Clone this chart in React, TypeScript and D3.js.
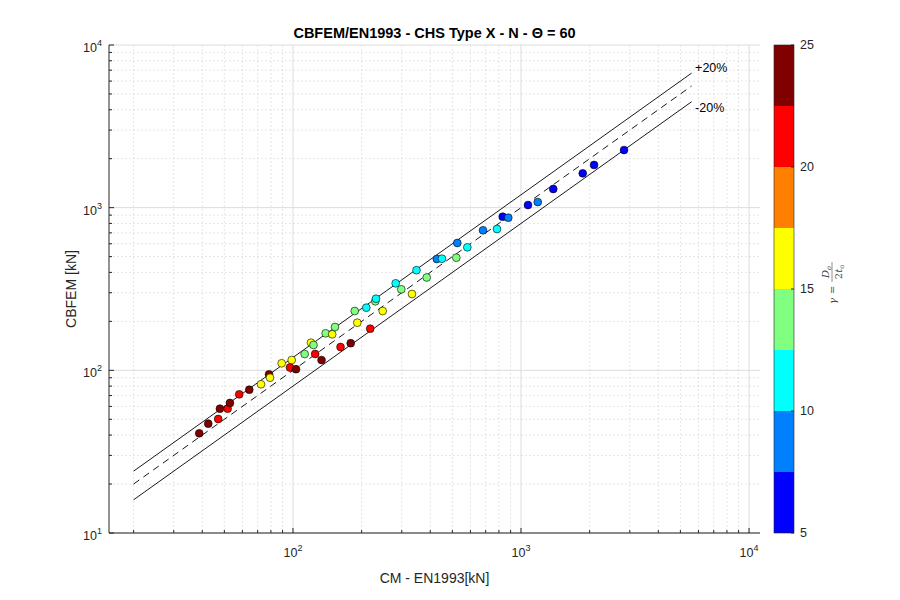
import React from "react";
import * as d3 from "d3";

// values
const cmValues = [38.8, 42.5, 47.0, 47.8, 51.7, 52.9, 58.1, 64.3, 72.4, 78.5, 79.3, 89.2, 98.7, 97.0, 103.1,
    112.5, 125.1, 133.4, 119.9, 123.0, 139.1, 148.6, 152.8, 161.6, 179.1, 191.4, 186.5, 209.7, 229.6, 231.2,
    218.1, 247.4, 282.1, 298.5, 332.6, 348.0, 385.9, 427.3, 450.3, 520.3, 525.6, 581.4, 681.3, 784.7, 831.2,
    879.4, 1073, 1184, 1385, 1865, 2091, 2830];
const cbfemValues = [41.0, 47.0, 50.2, 58.1, 58.1, 63.0, 71.2, 76.0, 82.1, 94.5, 90.1, 110.5, 115.7, 104.1, 101.6,
    126.0, 126.0, 115.7, 147.9, 143.1, 168.9, 166.5, 184.7, 139.1, 146.8, 196.3, 231.6, 242.7, 265.7, 275.6,
    180.3, 231.6, 342.8, 314.8, 294.6, 412.6, 372.2, 483.5, 485.6, 492.5, 606.5, 570.6, 725.8, 739.3, 879.8,
    867.5, 1038, 1083, 1302, 1626, 1830, 2261];
const gammaValues = [24, 24, 21, 24, 21, 24, 21, 24, 16, 24, 16, 16, 16, 21, 24,
    14, 21, 24, 16, 14, 14, 16, 14, 21, 24, 16, 14, 11, 14, 11,
    21, 16, 11, 14, 16, 11, 14, 9, 11, 14, 9, 11, 9, 11, 6,
    9, 6, 9, 6, 6, 6, 6];

const jetColors = ["#0000ff", "#0080ff", "#00ffff", "#80ff80", "#ffff00", "#ff8000", "#ff0000", "#800000"];
const gammaTicks = [5, 10, 15, 20, 25];
const xTickExps = [2, 3, 4];
const yTickExps = [1, 2, 3, 4];
const refFactors = [1.2, 1, 0.8];
const refRange = [20, 5600];
const bandLabels = [
    {text: "+20%", x: 5800, y: 7250},
    {text: "-20%", x: 5800, y: 4150},
];

const W = 900, H = 600;
const left = 109, right = 760, top = 45, bottom = 533;
const axisColor = "#262626";
const font = "'Liberation Sans', Arial, Helvetica, sans-serif";

const App = () => {
    const xScale = d3.scaleLog().domain([15.6, 11170]).range([left, right]);
    const yScale = d3.scaleLog().domain([10, 10000]).range([bottom, top]);
    const cScale = d3.scaleQuantize<string>().domain([5, 25]).range(jetColors);
    const cbY = d3.scaleLinear().domain([5, 25]).range([bottom, top]);

    const xMinor = xScale.ticks().filter(v => !xTickExps.some(e => Math.abs(v - 10 ** e) < 1e-6));
    const yMinor = yScale.ticks().filter(v => !yTickExps.some(e => Math.abs(v - 10 ** e) < 1e-6));

    const points = cmValues.map((x, i) => ({x, y: cbfemValues[i], g: gammaValues[i]}));
    const step = 20 / jetColors.length;
    const bins = d3.range(jetColors.length).map(i => 5 + i * step);

    return (
        <svg width={W} height={H} style={{position: "absolute", left: 0, top: 0, background: "#fff"}}
             fontFamily={font}>
            <rect width={W} height={H} fill="#fff"/>
            {/* minor grid */}
            {xMinor.map((v, i) => (
                <line key={"gx" + i} x1={xScale(v)} x2={xScale(v)} y1={top} y2={bottom}
                      stroke="#dedede" strokeWidth={0.8} strokeDasharray="2,2"/>
            ))}
            {yMinor.map((v, i) => (
                <line key={"gy" + i} x1={left} x2={right} y1={yScale(v)} y2={yScale(v)}
                      stroke="#dedede" strokeWidth={0.8} strokeDasharray="2,2"/>
            ))}
            {/* major grid */}
            {xTickExps.map(e => (
                <line key={"Gx" + e} x1={xScale(10 ** e)} x2={xScale(10 ** e)} y1={top} y2={bottom}
                      stroke="#dcdcdc" strokeWidth={1}/>
            ))}
            {yTickExps.map(e => (
                <line key={"Gy" + e} x1={left} x2={right} y1={yScale(10 ** e)} y2={yScale(10 ** e)}
                      stroke="#dcdcdc" strokeWidth={1}/>
            ))}

            {/* axes */}
            <line x1={left} x2={right} y1={bottom} y2={bottom} stroke={axisColor} strokeWidth={1}/>
            <line x1={left} x2={left} y1={top} y2={bottom} stroke={axisColor} strokeWidth={1}/>
            {xMinor.map((v, i) => (
                <line key={"tx" + i} x1={xScale(v)} x2={xScale(v)} y1={bottom} y2={bottom - 3}
                      stroke={axisColor}/>
            ))}
            {yMinor.map((v, i) => (
                <line key={"ty" + i} x1={left} x2={left + 3} y1={yScale(v)} y2={yScale(v)}
                      stroke={axisColor}/>
            ))}
            {xTickExps.map(e => (
                <g key={"Tx" + e} transform={`translate(${xScale(10 ** e)},${bottom})`}>
                    <line y2={-5} stroke={axisColor}/>
                    <text y={24} textAnchor="middle" fontSize={12.5} fill={axisColor}>
                        10<tspan dy={-6} fontSize={9}>{e}</tspan>
                    </text>
                </g>
            ))}
            {yTickExps.map(e => (
                <g key={"Ty" + e} transform={`translate(${left},${yScale(10 ** e)})`}>
                    <line x2={5} stroke={axisColor}/>
                    <text x={-12} y={7} textAnchor="end" fontSize={12.5} fill={axisColor}>10</text>
                    <text x={-12} y={1} textAnchor="start" fontSize={9} fill={axisColor}>{e}</text>
                </g>
            ))}

            {/* reference band */}
            {refFactors.map(f => (
                <line key={"r" + f} x1={xScale(refRange[0])} x2={xScale(refRange[1])}
                      y1={yScale(refRange[0] * f)} y2={yScale(refRange[1] * f)}
                      stroke="#000" strokeWidth={0.9} strokeDasharray={f === 1 ? "7,5" : undefined}/>
            ))}
            {bandLabels.map(l => (
                <text key={l.text} x={xScale(l.x)} y={yScale(l.y)} dy="0.35em" fontSize={12.5} fill="#000">
                    {l.text}
                </text>
            ))}

            {/* points */}
            {points.map((p, i) => (
                <circle key={"p" + i} cx={xScale(p.x)} cy={yScale(p.y)} r={3.9}
                        fill={cScale(p.g)} stroke="#000" strokeWidth={0.6}/>
            ))}

            {/* labels */}
            <text x={(left + right) / 2} y={38} textAnchor="middle" fontSize={14.5} fontWeight="bold" fill="#000">
                CBFEM/EN1993 - CHS Type X - N - Θ = 60
            </text>
            <text x={(left + right) / 2} y={583} textAnchor="middle" fontSize={14} fill={axisColor}>
                CM - EN1993[kN]
            </text>
            <text transform={`translate(76,${(top + bottom) / 2}) rotate(-90)`} textAnchor="middle"
                  fontSize={14} fill={axisColor}>
                CBFEM [kN]
            </text>

            {/* colorbar */}
            {bins.map((b, i) => (
                <rect key={"cb" + i} x={774} width={20} y={cbY(b + step)}
                      height={cbY(b) - cbY(b + step)} fill={cScale(b + 0.01)}/>
            ))}
            <rect x={774} y={top} width={20} height={bottom - top} fill="none" stroke={axisColor} strokeWidth={0.6}/>
            {gammaTicks.map(t => (
                <g key={"ct" + t} transform={`translate(794,${cbY(t)})`}>
                    <line x2={-3} stroke={axisColor}/>
                    <text x={6} dy="0.35em" fontSize={12.5} fill={axisColor}>{t}</text>
                </g>
            ))}
            <g transform="translate(832,283) rotate(-90)" fill="#444" fontFamily="'DejaVu Serif', serif"
               fontStyle="italic" fontSize={10}>
                <text x={-21} y={3.5}>γ</text>
                <text x={-11} y={3.5} fontStyle="normal">=</text>
                <text x={11} y={-3} textAnchor="middle">D<tspan fontSize={6.5} dy={2}>o</tspan></text>
                <line x1={1} x2={21} y1={0} y2={0} stroke="#444" strokeWidth={0.6}/>
                <text x={11} y={10} textAnchor="middle" fontStyle="normal">2<tspan fontStyle="italic">t</tspan><tspan fontSize={6.5} dy={2}>o</tspan></text>
            </g>
        </svg>
    );
};

export default App;
